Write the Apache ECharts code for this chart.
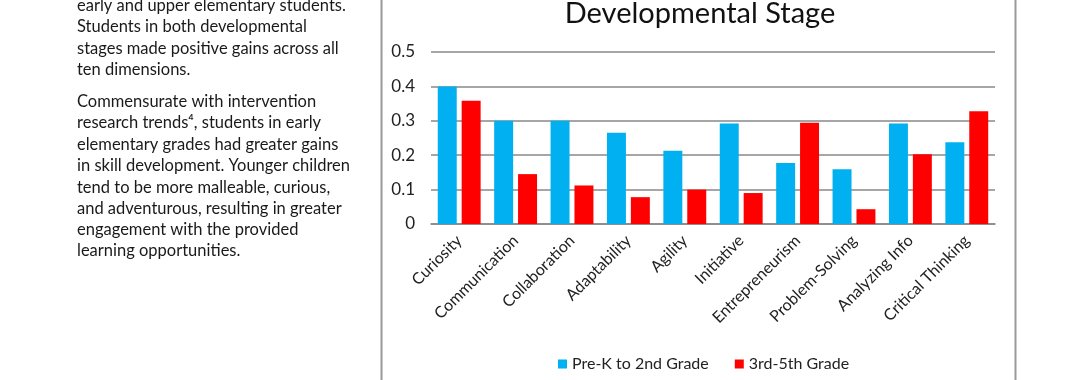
<!DOCTYPE html>
<html>
<head>
<meta charset="utf-8">
<script src="https://cdn.jsdelivr.net/npm/echarts@6/dist/echarts.min.js"></script>
<style>
html,body{margin:0;padding:0;background:#fff;}
#chart{width:1080px;height:380px;}
</style>
</head>
<body>
<div id="chart"></div>
<script>
const categories = ['Curiosity','Communication','Collaboration','Adaptability','Agility','Initiative','Entrepreneurism','Problem-Solving','Analyzing Info','Critical Thinking'];
const seriesNames = ['Pre-K to 2nd Grade','3rd-5th Grade'];
const preK2 = [0.40,0.30,0.30,0.265,0.213,0.292,0.177,0.159,0.292,0.238];
const grade35 = [0.358,0.145,0.112,0.078,0.100,0.090,0.294,0.043,0.203,0.328];
const titleText = 'Developmental Stage';
const paragraphLines = [
  'early and upper elementary students.',
  'Students in both developmental',
  'stages made positive gains across all',
  'ten dimensions.',
  '',
  'Commensurate with intervention',
  'research trends\u2074, students in early',
  'elementary grades had greater gains',
  'in skill development. Younger children',
  'tend to be more malleable, curious,',
  'and adventurous, resulting in greater',
  'engagement with the provided',
  'learning opportunities.'
];

const FONT = 'Lato';
const chart = echarts.init(document.getElementById('chart'));

const lineY = [7,28,50,71,null,103,124,146,167,189,210,231,252];
const textEls = [];
paragraphLines.forEach((t,i)=>{
  if(!t) return;
  textEls.push({
    type:'text', left:77, top:lineY[i]-10,
    style:{text:t, fill:'#1a1a1a', font:'16.5px '+FONT}
  });
});

chart.setOption({
  animation:false,
  textStyle:{fontFamily:FONT},
  title:{
    text:titleText, left:695, top:-6, textAlign:'center',
    textStyle:{fontFamily:FONT, fontSize:29, fontWeight:'normal', color:'#111'}
  },
  legend:{
    data:seriesNames, bottom:3, left:553, itemWidth:9, itemHeight:9, itemGap:26,
    icon:'rect', textStyle:{fontFamily:FONT, fontSize:16, color:'#222'}
  },
  grid:{left:431, right:85, top:52, bottom:156},
  xAxis:{
    type:'category', data:categories,
    axisLine:{lineStyle:{color:'#888', width:1.5}},
    axisTick:{show:false},
    axisLabel:{rotate:45, interval:0, fontFamily:FONT, fontSize:16, color:'#222', margin:14}
  },
  yAxis:{
    type:'value', min:0, max:0.5, interval:0.1,
    axisLine:{show:false}, axisTick:{show:false},
    splitLine:{lineStyle:{color:'#888', width:1.5}},
    axisLabel:{fontFamily:FONT, fontSize:17, color:'#222', margin:16}
  },
  series:[
    {name:seriesNames[0], type:'bar', data:preK2, itemStyle:{color:'#00B0F0'}, barGap:'26%', barCategoryGap:'24%'},
    {name:seriesNames[1], type:'bar', data:grade35, itemStyle:{color:'#FF0000'}}
  ],
  graphic:[
    {type:'line', shape:{x1:381.5,y1:0,x2:381.5,y2:380}, style:{stroke:'#999', lineWidth:2}},
    {type:'line', shape:{x1:1015.5,y1:0,x2:1015.5,y2:380}, style:{stroke:'#999', lineWidth:2}}
  ].concat(textEls)
});
</script>
</body>
</html>
